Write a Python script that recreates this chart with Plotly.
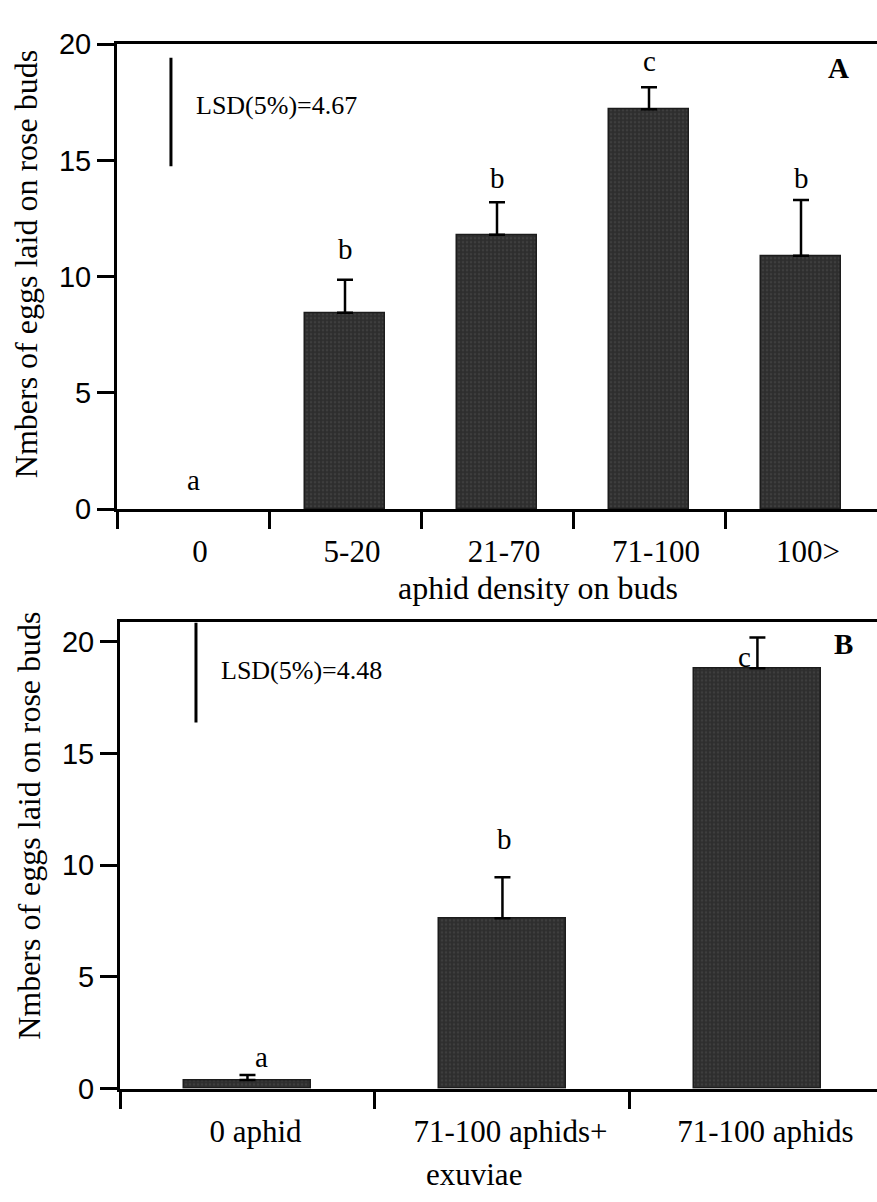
import plotly.graph_objects as go

# Panel A: egg counts by aphid density class
cats_a = ["0", "5-20", "21-70", "71-100", "100>"]
means_a = [0.0, 8.45, 11.8, 17.2, 10.9]
se_a = [0.0, 1.42, 1.4, 0.95, 2.4]
letters_a = ["a", "b", "b", "c", "b"]
lsd_a = 4.67

# Panel B: aphids vs. aphids plus exuviae
cats_b = ["0 aphid", "71-100 aphids+", "71-100 aphids"]
means_b = [0.39, 7.63, 18.82]
se_b = [0.22, 1.83, 1.38]
letters_b = ["a", "b", "c"]
lsd_b = 4.48

W, H = 877, 1202
SERIF = "Liberation Serif, Times New Roman, serif"
SANS = "Liberation Sans, Arial, sans-serif"
BAR_FILL = "#2e2e2e"


def py(pix):
    """Convert a pixel row (from the top) to paper y."""
    return (H - pix) / H


def px(pix):
    return pix / W


bar_style = dict(
    color=BAR_FILL,
    line=dict(color="#1c1c1c", width=1.5),
    pattern=dict(shape=".", fgcolor="#4d4d4d", bgcolor=BAR_FILL, size=4, solidity=0.3),
)
err_style = dict(type="data", symmetric=False, color="black", thickness=2.5, width=8)


def bar_trace(means, ses, width, xa, ya):
    # categories with a zero mean have no bar and no whisker
    idx = [i for i, m in enumerate(means) if m > 0]
    return go.Bar(
        x=idx, y=[means[i] for i in idx], width=width, marker=bar_style,
        error_y=dict(array=[ses[i] for i in idx], arrayminus=[0] * len(idx), **err_style),
        xaxis=xa, yaxis=ya, hoverinfo="skip",
    )


fig = go.Figure()
fig.add_trace(bar_trace(means_a, se_a, 0.53, "x", "y"))
fig.add_trace(bar_trace(means_b, se_b, 0.5, "x2", "y2"))

axis_common = dict(showline=True, linecolor="black", linewidth=3, showgrid=False,
                   zeroline=False)
ytick_common = dict(ticks="outside", ticklen=17, tickwidth=3, tickcolor="black",
                    tickfont=dict(family=SANS, size=29, color="black"))
xtick_font = dict(family=SERIF, size=31, color="black")

y_top_b = 20.87
fig.update_layout(
    width=W, height=H, margin=dict(l=0, r=0, t=0, b=0),
    paper_bgcolor="white", plot_bgcolor="white", showlegend=False, bargap=0,
    xaxis=dict(domain=[px(117), 1], anchor="y", range=[-0.5, 4.5],
               tickmode="array", tickvals=list(range(len(cats_a))), ticktext=cats_a,
               ticks="", mirror=True, tickfont=xtick_font,
               ticklabelstandoff=13, ticklabelshift=7,
               minor=dict(tickmode="array", tickvals=[-0.5, 0.5, 1.5, 2.5, 3.5],
                          ticks="outside", ticklen=17, tickwidth=3, tickcolor="black",
                          showgrid=False),
               **axis_common),
    yaxis=dict(domain=[py(506.7), py(29)], anchor="x", range=[0, 20],
               tickmode="array", tickvals=[0, 5, 10, 15, 20],
               **ytick_common, **axis_common),
    xaxis2=dict(domain=[px(120), 1], anchor="y2", range=[-0.5, 2.469],
                tickmode="array", tickvals=list(range(len(cats_b))), ticktext=cats_b,
                ticks="", mirror=True, tickfont=xtick_font,
                ticklabelstandoff=13, ticklabelshift=8,
                minor=dict(tickmode="array", tickvals=[-0.5, 0.5, 1.5],
                           ticks="outside", ticklen=17, tickwidth=3, tickcolor="black",
                           showgrid=False),
                **axis_common),
    yaxis2=dict(domain=[py(1102), py(623)], anchor="x2", range=[0, y_top_b],
                tickmode="array", tickvals=[0, 5, 10, 15, 20],
                **ytick_common, **axis_common),
)

title_font = dict(family=SERIF, size=32, color="black")
ann = []
ytitle = "Nmbers of eggs laid on rose buds"
ann.append(dict(text=ytitle, textangle=-90, xref="paper", yref="paper",
                x=px(26), y=py(255), xanchor="center", yanchor="middle", showarrow=False,
                font=title_font))
ann.append(dict(text=ytitle, textangle=-90, xref="paper", yref="paper",
                x=px(29), y=py(832), xanchor="center", yanchor="middle", showarrow=False,
                font=title_font))
ann.append(dict(text="aphid density on buds", xref="paper", yref="paper",
                x=px(538), y=py(588), xanchor="center", yanchor="middle", showarrow=False,
                font=title_font))
ann.append(dict(text="exuviae", xref="paper", yref="paper",
                x=px(424), y=py(1190), xanchor="left", yanchor="middle", showarrow=False,
                font=xtick_font))

# panel tags
ann.append(dict(text="<b>A</b>", xref="paper", yref="paper", x=px(838), y=py(53),
                xanchor="center", yanchor="middle", showarrow=False,
                font=dict(family=SERIF, size=29, color="black")))
ann.append(dict(text="<b>B</b>", xref="paper", yref="paper", x=px(843), y=py(645),
                xanchor="center", yanchor="middle", showarrow=False,
                font=dict(family=SERIF, size=29, color="black")))

# significance letters above the error bars
offs_a = [(0, 29), (0, 31), (0, 24), (0, 26), (0, 22)]
for i, (m, s, t) in enumerate(zip(means_a, se_a, letters_a)):
    dx, dy = offs_a[i]
    ann.append(dict(text=t, xref="x", yref="y", x=i, y=m + s, xshift=dx, yshift=dy,
                    xanchor="center", yanchor="middle", showarrow=False,
                    font=dict(family=SERIF, size=29, color="black")))
offs_b = [(14, 18), (2, 38), (-13, -20)]
for i, (m, s, t) in enumerate(zip(means_b, se_b, letters_b)):
    dx, dy = offs_b[i]
    ann.append(dict(text=t, xref="x2", yref="y2", x=i, y=m + s, xshift=dx, yshift=dy,
                    xanchor="center", yanchor="middle", showarrow=False,
                    font=dict(family=SERIF, size=29, color="black")))

# LSD reference bars with their labels
shapes = []
lsd_specs = [("x", "y", -0.145, 19.42, lsd_a), ("x2", "y2", -0.202, y_top_b, lsd_b)]
for xr, yr, xv, top, lsd in lsd_specs:
    shapes.append(dict(type="line", xref=xr, yref=yr, x0=xv, x1=xv, y0=top, y1=top - lsd,
                       line=dict(color="black", width=3)))
    ann.append(dict(text=f"LSD(5%)={lsd:.2f}", xref=xr, yref=yr, x=xv, y=top,
                    xshift=23, yshift=-48, xanchor="left", yanchor="middle",
                    showarrow=False, font=dict(family=SERIF, size=26, color="black")))

fig.update_layout(annotations=ann, shapes=shapes)
fig.write_html("out.html")
